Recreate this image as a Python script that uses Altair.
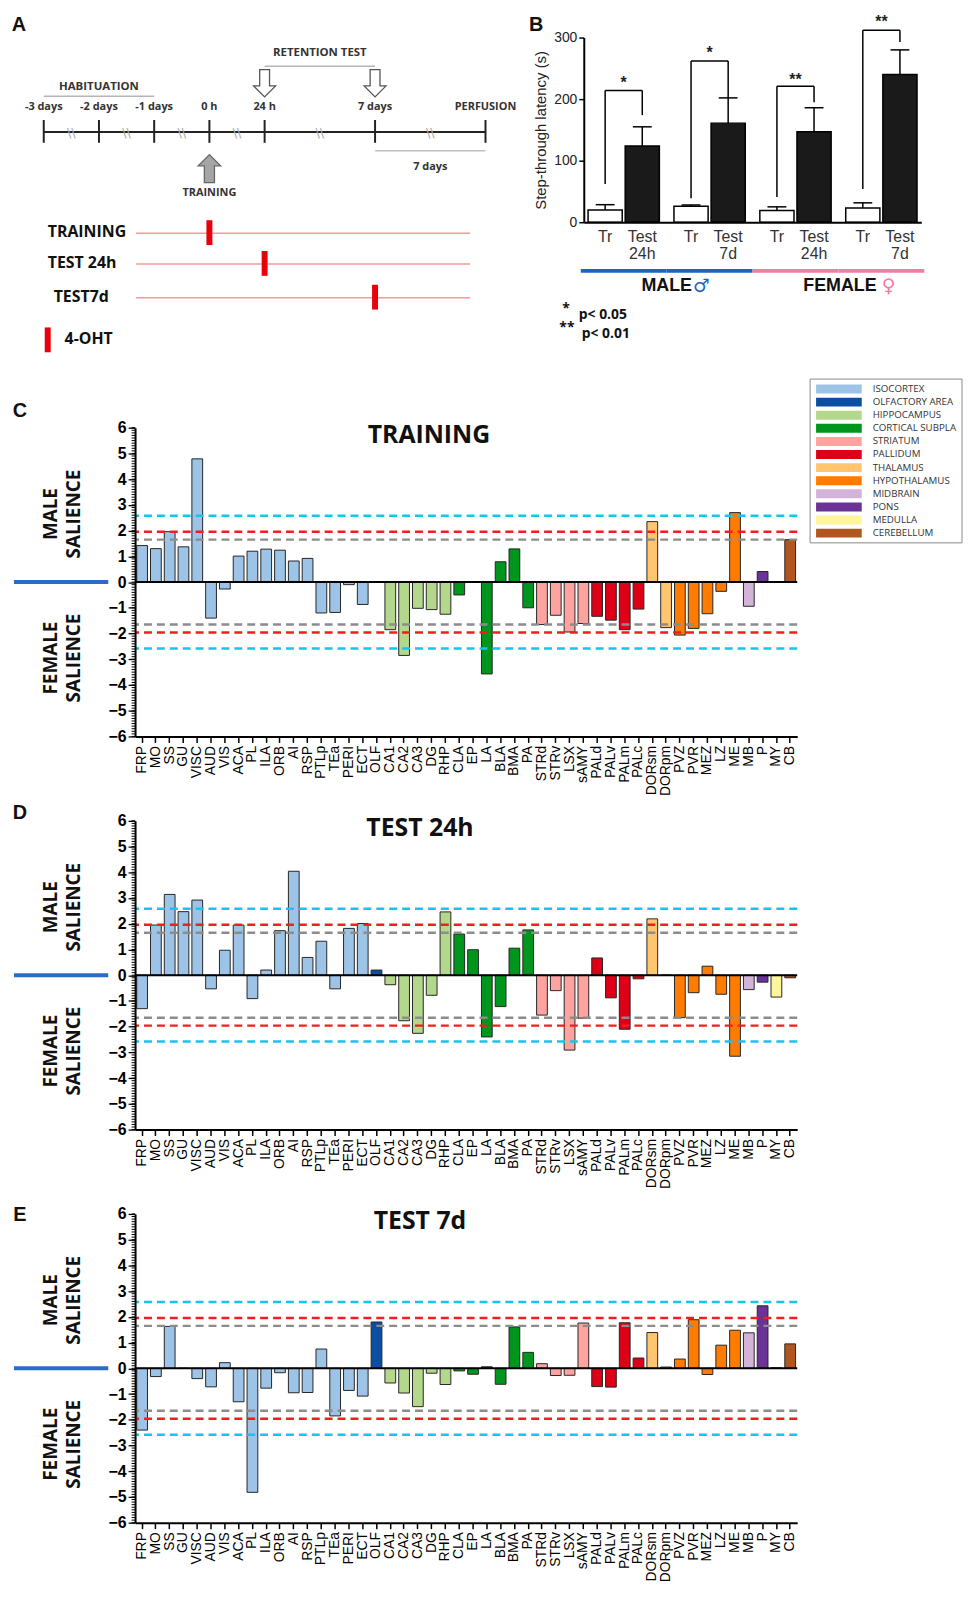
import altair as alt
import pandas as pd

# ---------------- Panel A (protocol schematic) ----------------
TL_SLOTS = [0, 1, 2, 3, 4, 6, 8]
TL_LABELS = ["-3 days", "-2 days", "-1 days", "0 h", "24 h", "7 days", "PERFUSION"]
BREAK_SLOTS = [0.5, 1.5, 2.5, 3.5, 5, 7]
PHASE_NAMES = ["HABITUATION", "RETENTION TEST"]
PHASE_START = [0, 4]
PHASE_END = [2, 6]
TEST_ARROWS = [4, 6]
TRAIN_ARROW = [3]
WAIT_SPAN = [6, 8]
WAIT_LABEL = "7 days"
PROTO_LABELS = ["TRAINING", "TEST 24h", "TEST7d"]
PROTO_SLOTS = [3, 4, 6]
PROTO_SPAN = [1.67, 7.72]
DRUG_LABEL = "4-OHT"

# ---------------- Panel B ----------------
B_GROUPS = ["M24", "M7", "F24", "F7"]
SEX_OF_GROUP = ["MALE", "MALE", "FEMALE", "FEMALE"]
B_TR = [20, 26, 19, 23]
B_TR_ERR = [8.5, 2, 6, 8.5]
B_TEST = [124, 161, 147, 240]
B_TEST_ERR = [31, 41, 39, 40]
B_TEST_LABELS = ["Test\n24h", "Test\n7d", "Test\n24h", "Test\n7d"]
BR_LEFT = [62, 39, 41, 54]
BR_RIGHT = [174, 202, 195, 293]
BR_TOP = [214, 262, 221, 312]
BR_STARS = ["*", "*", "**", "**"]
BR_STAR_Y = [236, 285, 241, 335]
SEXES = ["MALE", "FEMALE"]
SEX_ANCHOR = ["M24", "F24"]
SEX_SYMBOLS = ["\u2642", "\u2640"]
P_STARS = ["*", "**"]
P_TEXT = ["p< 0.05", "p< 0.01"]

# ---------------- Panels C-E ----------------
REGIONS = ["FRP", "MO", "SS", "GU", "VISC", "AUD", "VIS", "ACA", "PL", "ILA", "ORB", "AI",
           "RSP", "PTLp", "TEa", "PERI", "ECT", "OLF", "CA1", "CA2", "CA3", "DG", "RHP",
           "CLA", "EP", "LA", "BLA", "BMA", "PA", "STRd", "STRv", "LSX", "sAMY", "PALd",
           "PALv", "PALm", "PALc", "DORsm", "DORpm", "PVZ", "PVR", "MEZ", "LZ", "ME", "MB",
           "P", "MY", "CB"]
DIVISION_OF = (["ISOCORTEX"] * 17 + ["OLFACTORY AREA"] + ["HIPPOCAMPUS"] * 5
               + ["CORTICAL SUBPLATE"] * 6 + ["STRIATUM"] * 4 + ["PALLIDUM"] * 4
               + ["THALAMUS"] * 2 + ["HYPOTHALAMUS"] * 5 + ["MIDBRAIN", "PONS", "MEDULLA", "CEREBELLUM"])
VAL_TRAIN = [1.42, 1.30, 1.96, 1.37, 4.79, -1.40, -0.27, 1.01, 1.20, 1.28, 1.24, 0.82,
             0.92, -1.20, -1.18, -0.10, -0.87, 0.0, -1.85, -2.85, -1.02, -1.07, -1.25,
             -0.50, 0.02, -3.57, 0.79, 1.29, -1.00, -1.65, -1.29, -1.94, -1.61, -1.33,
             -1.48, -1.85, -1.05, 2.35, -1.77, -2.06, -1.80, -1.23, -0.36, 2.70, -0.94,
             0.41, 0.0, 1.65]
VAL_24H = [-1.30, 1.95, 3.14, 2.47, 2.92, -0.53, 0.97, 1.95, -0.91, 0.20, 1.73, 4.04,
           0.69, 1.32, -0.53, 1.82, 2.01, 0.20, -0.37, -1.77, -2.26, -0.78, 2.46,
           1.60, 0.99, -2.40, -1.22, 1.05, 1.76, -1.55, -0.60, -2.91, -1.67, 0.67,
           -0.88, -2.10, -0.14, 2.19, 0.0, -1.65, -0.68, 0.35, -0.74, -3.15, -0.56,
           -0.27, -0.85, -0.10]
VAL_7D = [-2.40, -0.32, 1.63, 0.0, -0.40, -0.72, 0.22, -1.30, -4.82, -0.77, -0.17, -0.95,
          -0.94, 0.75, -1.85, -0.86, -1.08, 1.80, -0.57, -0.96, -1.49, -0.19, -0.63,
          -0.10, -0.23, 0.06, -0.62, 1.61, 0.62, 0.18, -0.28, -0.27, 1.76, -0.71,
          -0.73, 1.77, 0.40, 1.39, 0.05, 0.36, 1.89, -0.24, 0.90, 1.48, 1.38,
          2.43, 0.02, 0.95]
DIVISIONS = ["ISOCORTEX", "OLFACTORY AREA", "HIPPOCAMPUS", "CORTICAL SUBPLATE", "STRIATUM",
             "PALLIDUM", "THALAMUS", "HYPOTHALAMUS", "MIDBRAIN", "PONS", "MEDULLA", "CEREBELLUM"]
COLORS = ["#9DC3E6", "#0B4EA2", "#B3D88C", "#00961E", "#FFA3A0", "#DE0016", "#FFC56F",
          "#FF7C00", "#D3B4D8", "#6A3395", "#FFF59D", "#B1561F"]
THRESH = [1.65, 1.96, 2.58]
THRESH_COLORS = ["#8C8C8C", "#F21D1D", "#17C4EE"]
Y_MAJOR = list(range(-6, 7))
Y_MINOR = [round(-6 + i * 0.1, 1) for i in range(121)]

BOLD = "Open Sans"
ARIAL = "Liberation Sans"
one = pd.DataFrame({"k": [0]})

# Row 1 coordinates are relative to the origin of the bar panels (page x 136, page y 8).
# ======================= Panel A =======================
SLOT = alt.Scale(domain=[0, 8], range=[-92, 353], nice=False, zero=False)


def sx(f):
    return alt.X(f, type="quantitative", scale=SLOT, axis=None)


df_tl = pd.DataFrame({"slot": TL_SLOTS, "label": TL_LABELS})
r1 = []
# guard mark that pins the top-left corner of the whole figure
r1.append(alt.Chart(one).mark_rect(fill="white").encode(
    x=alt.value(-128), x2=alt.value(-127), y=alt.value(0), y2=alt.value(1)))
r1.append(alt.Chart(pd.DataFrame({"t": ["A"]})).mark_text(
    font=ARIAL, fontWeight="bold", fontSize=20, color="#111").encode(
    x=alt.value(-117), y=alt.value(11), text="t:N"))
r1.append(alt.Chart(pd.DataFrame({"a": [TL_SLOTS[0]], "b": [TL_SLOTS[-1]]})).mark_rule(
    color="#222", strokeWidth=2).encode(x=sx("a"), x2="b:Q", y=alt.value(119)))
r1.append(alt.Chart(df_tl).mark_rule(color="#222", strokeWidth=2).encode(
    x=sx("slot"), y=alt.value(107), y2=alt.value(130)))
r1.append(alt.Chart(df_tl).mark_text(font=BOLD, fontWeight="bold", fontSize=11, color="#333").encode(
    x=sx("slot"), y=alt.value(94), text="label:N"))
r1.append(alt.Chart(pd.DataFrame({"slot": BREAK_SLOTS})).mark_text(
    text="\\\\", fontSize=13, color="#aaa", font="DejaVu Sans").encode(x=sx("slot"), y=alt.value(120)))
phase_y = [(74, 83), (40, 53)]
for i, name in enumerate(PHASE_NAMES):
    dfp = pd.DataFrame({"a": [PHASE_START[i]], "b": [PHASE_END[i]],
                        "m": [(PHASE_START[i] + PHASE_END[i]) / 2], "t": [name]})
    r1.append(alt.Chart(dfp).mark_rule(color="#b5b5b5", strokeWidth=1.5).encode(
        x=sx("a"), x2="b:Q", y=alt.value(phase_y[i][1])))
    r1.append(alt.Chart(dfp).mark_text(font=BOLD, fontWeight="bold", fontSize=11.5, color="#333").encode(
        x=sx("m"), y=alt.value(phase_y[i][0]), text="t:N"))
DOWN = "M-0.36,-1L0.36,-1L0.36,0.2L0.8,0.2L0,1L-0.8,0.2L-0.36,0.2Z"
UP = "M-0.36,1L0.36,1L0.36,-0.2L0.8,-0.2L0,-1L-0.8,-0.2L-0.36,-0.2Z"
r1.append(alt.Chart(pd.DataFrame({"slot": TEST_ARROWS})).mark_point(
    shape=DOWN, size=760, filled=True, fill="white", stroke="#555", strokeWidth=1.3, opacity=1).encode(
    x=sx("slot"), y=alt.value(70)))
df_tr = pd.DataFrame({"slot": TRAIN_ARROW, "t": ["TRAINING"]})
r1.append(alt.Chart(df_tr).mark_point(
    shape=UP, size=800, filled=True, fill="#a5a5a5", stroke="#666", strokeWidth=1.3, opacity=1).encode(
    x=sx("slot"), y=alt.value(156)))
r1.append(alt.Chart(df_tr).mark_text(font=BOLD, fontWeight="bold", fontSize=11, color="#333").encode(
    x=sx("slot"), y=alt.value(181), text="t:N"))
dfw = pd.DataFrame({"a": [WAIT_SPAN[0]], "b": [WAIT_SPAN[1]], "m": [(WAIT_SPAN[0] + WAIT_SPAN[1]) / 2],
                    "t": [WAIT_LABEL]})
r1.append(alt.Chart(dfw).mark_rule(color="#c0c0c0", strokeWidth=1.5).encode(
    x=sx("a"), x2="b:Q", y=alt.value(138)))
r1.append(alt.Chart(dfw).mark_text(font=BOLD, fontWeight="bold", fontSize=11, color="#333").encode(
    x=sx("m"), y=alt.value(154), text="t:N"))
proto_y = [220, 251, 285]
proto_x = [-88, -88, -82]
for i, lab in enumerate(PROTO_LABELS):
    dfr = pd.DataFrame({"a": [PROTO_SPAN[0]], "b": [PROTO_SPAN[1]], "slot": [PROTO_SLOTS[i]], "t": [lab]})
    r1.append(alt.Chart(dfr).mark_text(font=BOLD, fontWeight="bold", fontSize=16, color="#111",
                                       align="left").encode(
        x=alt.value(proto_x[i]), y=alt.value(proto_y[i]), text="t:N"))
    r1.append(alt.Chart(dfr).mark_rule(color="#F49A9A", strokeWidth=1.5).encode(
        x=sx("a"), x2="b:Q", y=alt.value(proto_y[i] + 1)))
    r1.append(alt.Chart(dfr).mark_rule(color="#E8000B", strokeWidth=6).encode(
        x=sx("slot"), y=alt.value(proto_y[i] - 12), y2=alt.value(proto_y[i] + 13)))
dfd = pd.DataFrame({"t": [DRUG_LABEL]})
r1.append(alt.Chart(dfd).mark_rule(color="#E8000B", strokeWidth=6).encode(
    x=alt.value(-88), y=alt.value(316), y2=alt.value(341)))
r1.append(alt.Chart(dfd).mark_text(font=BOLD, fontWeight="bold", fontSize=16, color="#111",
                                   align="left").encode(
    x=alt.value(-71), y=alt.value(328), text="t:N"))

# ======================= Panel B =======================
rows = []
for i, g in enumerate(B_GROUPS):
    rows.append({"group": g, "cond": "Tr", "value": B_TR[i], "top": B_TR[i] + B_TR_ERR[i], "label": "Tr"})
    rows.append({"group": g, "cond": "Test", "value": B_TEST[i], "top": B_TEST[i] + B_TEST_ERR[i],
                 "label": B_TEST_LABELS[i]})
df_b = pd.DataFrame(rows)
legs = []
for i, g in enumerate(B_GROUPS):
    legs.append({"group": g, "cond": "Tr", "low": BR_LEFT[i], "top": BR_TOP[i]})
    legs.append({"group": g, "cond": "Test", "low": BR_RIGHT[i], "top": BR_TOP[i]})
df_legs = pd.DataFrame(legs)
df_br = pd.DataFrame({"group": B_GROUPS, "top": BR_TOP, "star": BR_STARS, "sy": BR_STAR_Y})
df_sexg = pd.DataFrame({"group": B_GROUPS, "sex": SEX_OF_GROUP})
df_sexn = pd.DataFrame({"group": SEX_ANCHOR, "sex": SEXES, "sym": SEX_SYMBOLS})

XB_SCALE = alt.Scale(type="band", domain=B_GROUPS, range=[452, 792], paddingInner=0.17, paddingOuter=0.05)
XO_SCALE = alt.Scale(type="band", domain=["Tr", "Test"], paddingInner=0.08, paddingOuter=0)
YB_SCALE = alt.Scale(domain=[0, 300], range=[210, 24], nice=False)


def xb(with_axis=False):
    if with_axis:
        return alt.X("group:N", scale=XB_SCALE, axis=alt.Axis(
            orient="bottom", offset=-122, title=None, labels=False, ticks=False,
            domainColor="black", domainWidth=2, zindex=1))
    return alt.X("group:N", scale=XB_SCALE, axis=None)


def xo():
    return alt.XOffset("cond:N", scale=XO_SCALE)


def yb(field, with_axis=False):
    if with_axis:
        return alt.Y(field, type="quantitative", scale=YB_SCALE, axis=alt.Axis(
            orient="left", offset=-452, values=[0, 100, 200, 300], title="Step-through latency (s)",
            titleFont=ARIAL, titleFontSize=15, titleFontWeight="normal", titleColor="#222", titlePadding=5,
            labelFont=ARIAL, labelFontSize=14, labelColor="#222", tickColor="black", tickSize=5,
            tickWidth=1.5, domainColor="black", domainWidth=2, labelPadding=2, grid=False, zindex=1))
    return alt.Y(field, type="quantitative", scale=YB_SCALE, axis=None)


r1.append(alt.Chart(df_b).mark_bar(stroke="black", strokeWidth=1.5).encode(
    x=xb(True), xOffset=xo(), y=yb("value", True),
    fill=alt.Fill("cond:N", scale=alt.Scale(domain=["Tr", "Test"], range=["white", "#1a1a1a"]), legend=None)))
r1.append(alt.Chart(df_b).mark_rule(color="black", strokeWidth=1.5).encode(
    x=xb(), xOffset=xo(), y=yb("value"), y2="top:Q"))
r1.append(alt.Chart(df_b).mark_tick(orient="horizontal", color="black", thickness=1.5, size=19,
                                    opacity=1).encode(x=xb(), xOffset=xo(), y=yb("top")))
r1.append(alt.Chart(df_legs).mark_rule(color="black", strokeWidth=1.5).encode(
    x=xb(), xOffset=xo(), y=yb("low"), y2="top:Q"))
r1.append(alt.Chart(df_br).mark_tick(orient="horizontal", color="black", thickness=1.5, size=37.4,
                                     opacity=1).encode(x=xb(), y=yb("top")))
r1.append(alt.Chart(df_br).mark_text(font=ARIAL, fontWeight="bold", fontSize=16, color="#222",
                                     dy=6).encode(x=xb(), y=yb("sy"), text="star:N"))
r1.append(alt.Chart(df_b).mark_text(font=ARIAL, fontSize=16, color="#333", baseline="top",
                                    lineBreak="\n", lineHeight=17).encode(
    x=xb(), xOffset=xo(), y=alt.value(217), text="label:N"))
r1.append(alt.Chart(pd.DataFrame({"t": ["B"]})).mark_text(
    font=ARIAL, fontWeight="bold", fontSize=20, color="#111").encode(
    x=alt.value(404), y=alt.value(11), text="t:N"))
sex_colors = ["#1C63C4", "#F27CA2"]
name_dx = [68.8, 81.8]
sym_dx = [69.8, 86.8]
for i, s in enumerate(SEXES):
    r1.append(alt.Chart(df_sexg).transform_filter(alt.datum.sex == s).mark_tick(
        orient="horizontal", size=86.5, thickness=4, color=sex_colors[i], opacity=1).encode(
        x=xb(), y=alt.value(259)))
    r1.append(alt.Chart(df_sexn).transform_filter(alt.datum.sex == s).mark_text(
        font=ARIAL, fontWeight="bold", fontSize=18, color="#111", align="right", dx=name_dx[i]).encode(
        x=xb(), y=alt.value(274), text="sex:N"))
    r1.append(alt.Chart(df_sexn).transform_filter(alt.datum.sex == s).mark_text(
        font="DejaVu Sans", fontWeight="bold", fontSize=19, color=sex_colors[i], align="left",
        dx=sym_dx[i]).encode(x=xb(), y=alt.value(274), text="sym:N"))
p_star_y = [297, 317]
p_text_y = [303, 323]
p_star_x = [434, 435]
p_text_x = [447, 450]
for i in range(len(P_TEXT)):
    dfpv = pd.DataFrame({"s": [P_STARS[i]], "p": [P_TEXT[i]]})
    r1.append(alt.Chart(dfpv).mark_text(font=BOLD, fontWeight="bold", fontSize=14, color="#111").encode(
        x=alt.value(p_star_x[i]), y=alt.value(p_star_y[i]), text="s:N"))
    r1.append(alt.Chart(dfpv).mark_text(font=BOLD, fontWeight="bold", fontSize=14, color="#111",
                                        align="left").encode(
        x=alt.value(p_text_x[i]), y=alt.value(p_text_y[i]), text="p:N"))

row1 = alt.layer(*r1).resolve_scale(x="independent", y="independent", xOffset="independent").properties(
    width=667, height=332)

# ======================= Panels C-E =======================
YSC = alt.Scale(domain=[-6, 6], nice=False, zero=False)
YAX = alt.Axis(values=Y_MAJOR, tickSize=7, tickColor="black", tickWidth=1.3, domainColor="black",
               domainWidth=2, labelFont=ARIAL, labelFontWeight="bold", labelFontSize=16, labelColor="black",
               labelPadding=2, title=None, grid=False, labelOverlap=False, labelFlush=False, zindex=1)


def bar_row(values, title, title_x, letter, letter_y, legend):
    layers = []
    df = pd.DataFrame({"region": REGIONS, "division": DIVISION_OF, "value": values})
    layers.append(alt.Chart(df).mark_bar(stroke="#262626", strokeWidth=1).encode(
        x=alt.X("region:N", sort=REGIONS, scale=alt.Scale(paddingInner=0.22, paddingOuter=0.12),
                axis=alt.Axis(title=None, labelAngle=270, labelAlign="right", labelBaseline="middle",
                              labelFont=ARIAL, labelFontSize=14, labelColor="black", tickColor="black",
                              tickSize=6, tickWidth=1.5, domainColor="black", domainWidth=2,
                              labelPadding=3, labelOverlap=False, labelBound=False, zindex=1)),
        y=alt.Y("value:Q", scale=YSC, axis=YAX),
        color=alt.Color("division:N", scale=alt.Scale(domain=DIVISIONS, range=COLORS), legend=None)))
    layers.append(alt.Chart(pd.DataFrame({"value": Y_MINOR})).mark_rule(color="black", strokeWidth=1).encode(
        y=alt.Y("value:Q", scale=YSC, axis=YAX), x=alt.value(-3.5), x2=alt.value(0)))
    for t, c in zip(THRESH, THRESH_COLORS):
        dft = pd.DataFrame({"value": [t, -t]})
        layers.append(alt.Chart(dft).mark_rule(color=c, strokeWidth=2.5, strokeDash=[8, 5]).encode(
            y=alt.Y("value:Q", scale=YSC, axis=YAX)))
    layers.append(alt.Chart(pd.DataFrame({"value": [0]})).mark_rule(color="black", strokeWidth=2).encode(
        y=alt.Y("value:Q", scale=YSC, axis=YAX)))
    layers.append(alt.Chart(pd.DataFrame({"t": [title]})).mark_text(
        font=BOLD, fontWeight="bold", fontSize=25, color="#111").encode(
        x=alt.value(title_x), y=alt.value(7), text="t:N"))
    layers.append(alt.Chart(pd.DataFrame({"t": [letter]})).mark_text(
        font=ARIAL, fontWeight="bold", fontSize=20, color="#111").encode(
        x=alt.value(-116), y=alt.value(letter_y), text="t:N"))
    layers.append(alt.Chart(one).mark_rule(color="#2A6BC4", strokeWidth=4).encode(
        x=alt.value(-122), x2=alt.value(-27), y=alt.value(155.5)))
    for txt, xx, yy in [("MALE", -85, 87), ("SALIENCE", -61, 87), ("FEMALE", -85, 232), ("SALIENCE", -61, 232)]:
        layers.append(alt.Chart(pd.DataFrame({"t": [txt]})).mark_text(
            font=BOLD, fontWeight="bold", fontSize=19, color="#111", angle=270, align="center",
            baseline="middle").encode(x=alt.value(xx), y=alt.value(yy), text="t:N"))
    if legend:
        layers.append(alt.Chart(one).mark_rect(fill="white", stroke="#888", strokeWidth=1).encode(
            x=alt.value(680), x2=alt.value(833), y=alt.value(-49), y2=alt.value(116)))
        for i, (d, c) in enumerate(zip(DIVISIONS, COLORS)):
            yy = -39 + 13.2 * i
            dfl = pd.DataFrame({"d": [d]})
            layers.append(alt.Chart(dfl).mark_rule(color=c, strokeWidth=9).encode(
                x=alt.value(686), x2=alt.value(732), y=alt.value(yy)))
            layers.append(alt.Chart(dfl).mark_text(
                font="Open Sans", fontSize=9.8, color="#333", align="left", baseline="middle",
                limit=88, ellipsis=" ").encode(x=alt.value(743), y=alt.value(yy), text="d:N"))
    return alt.layer(*layers).properties(width=667, height=311)


rowC = bar_row(VAL_TRAIN, "TRAINING", 296, "C", -17, True)
rowD = bar_row(VAL_24H, "TEST 24h", 287, "D", -8, False)
rowE = bar_row(VAL_7D, "TEST 7d", 287, "E", 1, False)

chart = alt.vconcat(row1, rowC, rowD, rowE, spacing=85, bounds="flush").properties(
    padding=0).configure_view(stroke=None)

chart.save("out.html", embed_options={"renderer": "svg", "actions": False})
